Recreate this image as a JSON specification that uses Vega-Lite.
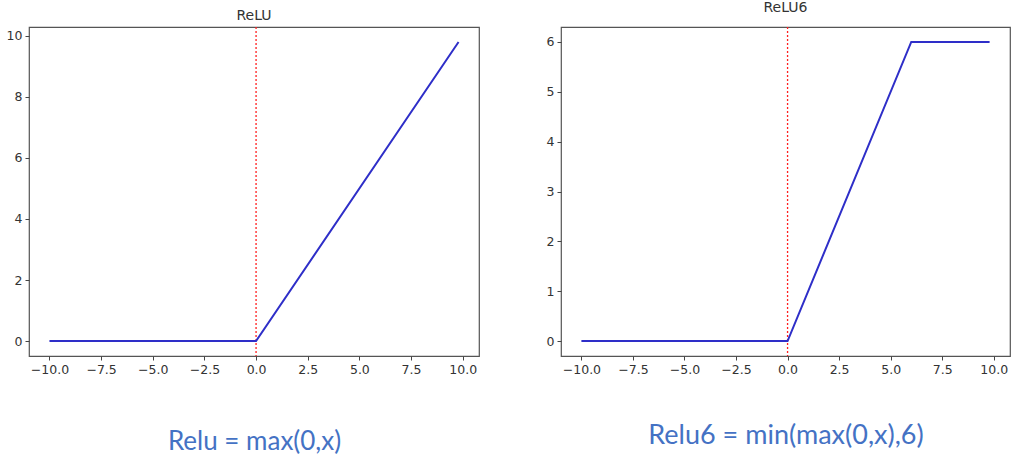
{
  "$schema": "https://vega.github.io/schema/vega-lite/v6.json",
  "background": "white",
  "padding": {"left": 5, "top": 0, "right": 5, "bottom": 0},
  "spacing": 65,
  "config": {
    "font": "DejaVu Sans",
    "view": {"stroke": "#555", "strokeWidth": 1.2},
    "axis": {"grid": false, "domain": false, "tickColor": "#444", "tickSize": 4, "labelColor": "#333", "labelFontSize": 12.5, "labelFont": "DejaVu Sans", "labelPadding": 3},
    "title": {"fontSize": 14, "fontWeight": "normal", "color": "#333", "font": "DejaVu Sans", "offset": 5}
  },
  "datasets": {
    "relu": [{"x": -10, "y": 0}, {"x": 0, "y": 0}, {"x": 9.8, "y": 9.8}],
    "relu6": [{"x": -10, "y": 0}, {"x": 0, "y": 0}, {"x": 6, "y": 6}, {"x": 9.8, "y": 6}],
    "zero": [{"x": 0}]
  },
  "hconcat": [
    {
      "title": {"text": "ReLU", "offset": 3},
      "width": 450,
      "height": 329,
      "layer": [
        {
          "data": {"name": "zero"},
          "mark": {"type": "rule", "color": "#ff2020", "strokeDash": [2, 2], "strokeWidth": 1.3},
          "encoding": {"x": {"field": "x", "type": "quantitative", "scale": {"domain": [-10.99, 10.79], "nice": false, "zero": false}}}
        },
        {
          "data": {"name": "relu"},
          "mark": {"type": "line", "color": "#2e2ec8", "strokeWidth": 2},
          "encoding": {
            "x": {"field": "x", "type": "quantitative", "scale": {"domain": [-10.99, 10.79], "nice": false, "zero": false},
              "axis": {"values": [-10, -7.5, -5, -2.5, 0, 2.5, 5, 7.5, 10], "format": ".1f", "title": "Relu = max(0,x)", "titleFont": "Lato", "titleFontSize": 26, "titleColor": "#4472C4", "titleFontWeight": "normal", "titlePadding": 53}},
            "y": {"field": "y", "type": "quantitative", "scale": {"domain": [-0.49, 10.29], "nice": false, "zero": false},
              "axis": {"values": [0, 2, 4, 6, 8, 10], "title": null}}
          }
        }
      ]
    },
    {
      "title": {"text": "ReLU6", "offset": 11},
      "width": 449,
      "height": 329,
      "layer": [
        {
          "data": {"name": "zero"},
          "mark": {"type": "rule", "color": "#ff2020", "strokeDash": [2, 2], "strokeWidth": 1.3},
          "encoding": {"x": {"field": "x", "type": "quantitative", "scale": {"domain": [-10.99, 10.79], "nice": false, "zero": false}}}
        },
        {
          "data": {"name": "relu6"},
          "mark": {"type": "line", "color": "#2e2ec8", "strokeWidth": 2},
          "encoding": {
            "x": {"field": "x", "type": "quantitative", "scale": {"domain": [-10.99, 10.79], "nice": false, "zero": false},
              "axis": {"values": [-10, -7.5, -5, -2.5, 0, 2.5, 5, 7.5, 10], "format": ".1f", "title": "Relu6 = min(max(0,x),6)", "titleFont": "Lato", "titleFontSize": 27, "titleColor": "#4472C4", "titleFontWeight": "normal", "titlePadding": 47}},
            "y": {"field": "y", "type": "quantitative", "scale": {"domain": [-0.3, 6.3], "nice": false, "zero": false},
              "axis": {"values": [0, 1, 2, 3, 4, 5, 6], "title": null}}
          }
        }
      ]
    }
  ]
}
